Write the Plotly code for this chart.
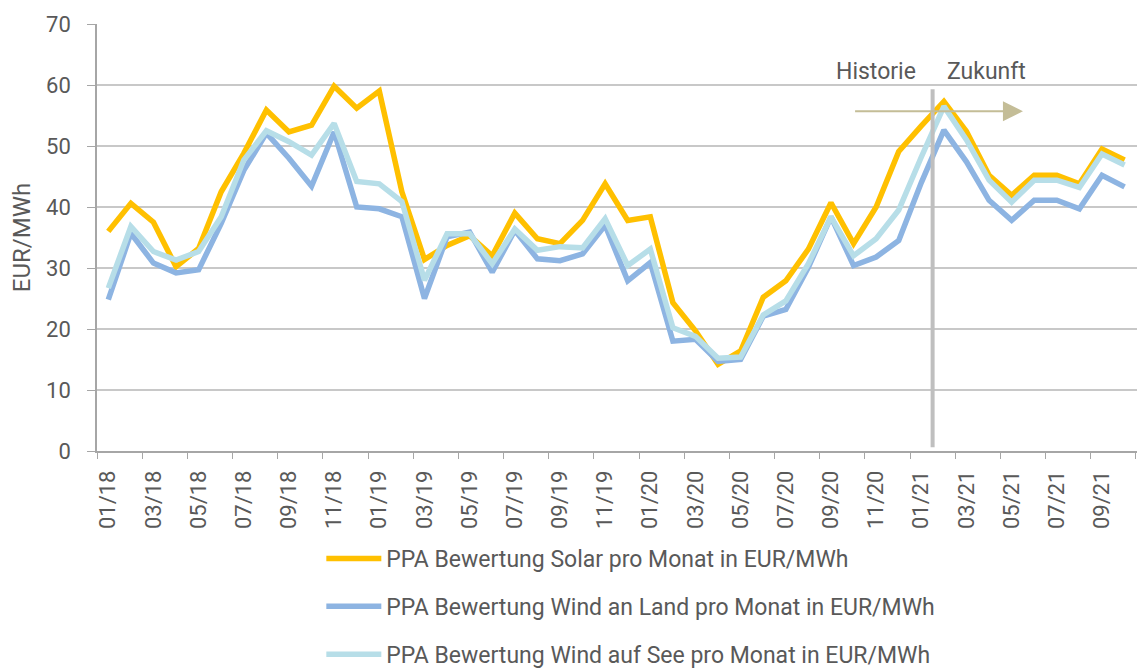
import plotly.graph_objects as go

months = [f"{m:02d}/{y}" for y in (18, 19, 20, 21) for m in range(1, 13)][:46]

solar = [36.0, 40.6, 37.5, 30.2, 33.2, 42.5, 48.8, 55.9, 52.3, 53.4, 59.8, 56.2,
         59.0, 42.5, 31.4, 33.7, 35.3, 32.0, 39.0, 34.8, 34.0, 37.8, 43.8, 37.8,
         38.4, 24.3, 19.7, 14.2, 16.4, 25.2, 27.9, 33.1, 40.7, 34.0, 40.0, 49.1,
         53.3, 57.3, 52.4, 45.2, 41.9, 45.2, 45.2, 43.8, 49.5, 47.7]
wind_land = [24.8, 35.7, 30.8, 29.2, 29.7, 37.3, 46.0, 52.1, 48.0, 43.4, 52.3, 40.0,
             39.7, 38.4, 25.0, 35.1, 35.9, 29.3, 36.2, 31.5, 31.2, 32.3, 37.0, 27.9,
             30.9, 18.0, 18.3, 14.7, 15.0, 22.1, 23.2, 30.1, 38.4, 30.4, 31.8, 34.5,
             44.0, 52.6, 47.4, 41.1, 37.8, 41.1, 41.1, 39.7, 45.2, 43.3]
wind_see = [26.7, 36.8, 32.7, 31.3, 32.7, 38.4, 47.7, 52.5, 50.7, 48.5, 53.7, 44.2,
            43.8, 40.9, 28.0, 35.6, 35.6, 30.7, 36.4, 32.9, 33.5, 33.3, 38.1, 30.4,
            33.1, 20.2, 18.8, 15.2, 15.4, 22.3, 24.6, 30.7, 38.4, 32.0, 34.8, 39.5,
            48.2, 56.5, 51.0, 44.4, 40.8, 44.4, 44.4, 43.2, 48.7, 46.9]

names = ["PPA Bewertung Solar pro Monat in EUR/MWh",
         "PPA Bewertung Wind an Land pro Monat in EUR/MWh",
         "PPA Bewertung Wind auf See pro Monat in EUR/MWh"]
colors = ["#FFC000", "#8DB4E2", "#B7DEE8"]

FONT = "Roboto"
GRAY = "#595959"

fig = go.Figure()
for i, (vals, nm, col) in enumerate(zip([solar, wind_land, wind_see], names, colors)):
    fig.add_trace(go.Scatter(
        x=months, y=vals, mode="lines", name=nm,
        line=dict(color=col, width=5.5), legendgroup=f"g{i}"))

# Historie / Zukunft divider
fig.add_shape(type="line", xref="x", yref="y", x0=36.5, x1=36.5, y0=0.6, y1=59.3,
              line=dict(color="#BFBFBF", width=4))
fig.add_annotation(x=40.5, y=55.7, ax=33.0, ay=55.7, xref="x", yref="y",
                   axref="x", ayref="y", text="", showarrow=True,
                   arrowhead=2, arrowsize=2, arrowwidth=2, arrowcolor="#C4BD97")
fig.add_annotation(x=34.0, y=62.2, xref="x", yref="y", text="Historie",
                   showarrow=False, font=dict(size=23, color=GRAY, family=FONT))
fig.add_annotation(x=38.9, y=62.2, xref="x", yref="y", text="Zukunft",
                   showarrow=False, font=dict(size=23, color=GRAY, family=FONT))

fig.update_layout(
    width=1137, height=668,
    margin=dict(l=97, r=0, t=24, b=217, autoexpand=False),
    plot_bgcolor="white", paper_bgcolor="white",
    font=dict(family=FONT, color=GRAY, size=22),
    showlegend=True,
    legend=dict(orientation="v", xref="paper", x=0.2157, xanchor="left",
                yref="container", y=(668 - 537) / 668, yanchor="top",
                font=dict(size=23, color=GRAY, family=FONT),
                tracegroupgap=15, itemwidth=55, bgcolor="rgba(0,0,0,0)"),
    xaxis=dict(type="category", range=[-0.5, 45.55], dtick=2, tickson="boundaries",
               ticks="outside", ticklen=6, tickcolor="#A6A6A6", tickangle=-90,
               ticklabelstandoff=9, automargin=False,
               showline=True, linecolor="#A6A6A6", linewidth=1.5,
               showgrid=False, tickfont=dict(size=22, color=GRAY, family=FONT)),
    yaxis=dict(range=[0, 70], dtick=10, ticks="outside", ticklen=8,
               tickcolor="#A6A6A6", showline=True, linecolor="#A6A6A6", linewidth=1.5,
               ticklabelstandoff=12, automargin=False,
               showgrid=True, gridcolor="#C8C8C8", gridwidth=1.5, zeroline=False,
               tickfont=dict(size=22, color=GRAY, family=FONT),
               title=dict(text="EUR/MWh", font=dict(size=24, color=GRAY, family=FONT),
                          standoff=9)),
)

fig.write_html("out.html", config={"displayModeBar": False},
               post_script="document.body.style.margin='0';")
